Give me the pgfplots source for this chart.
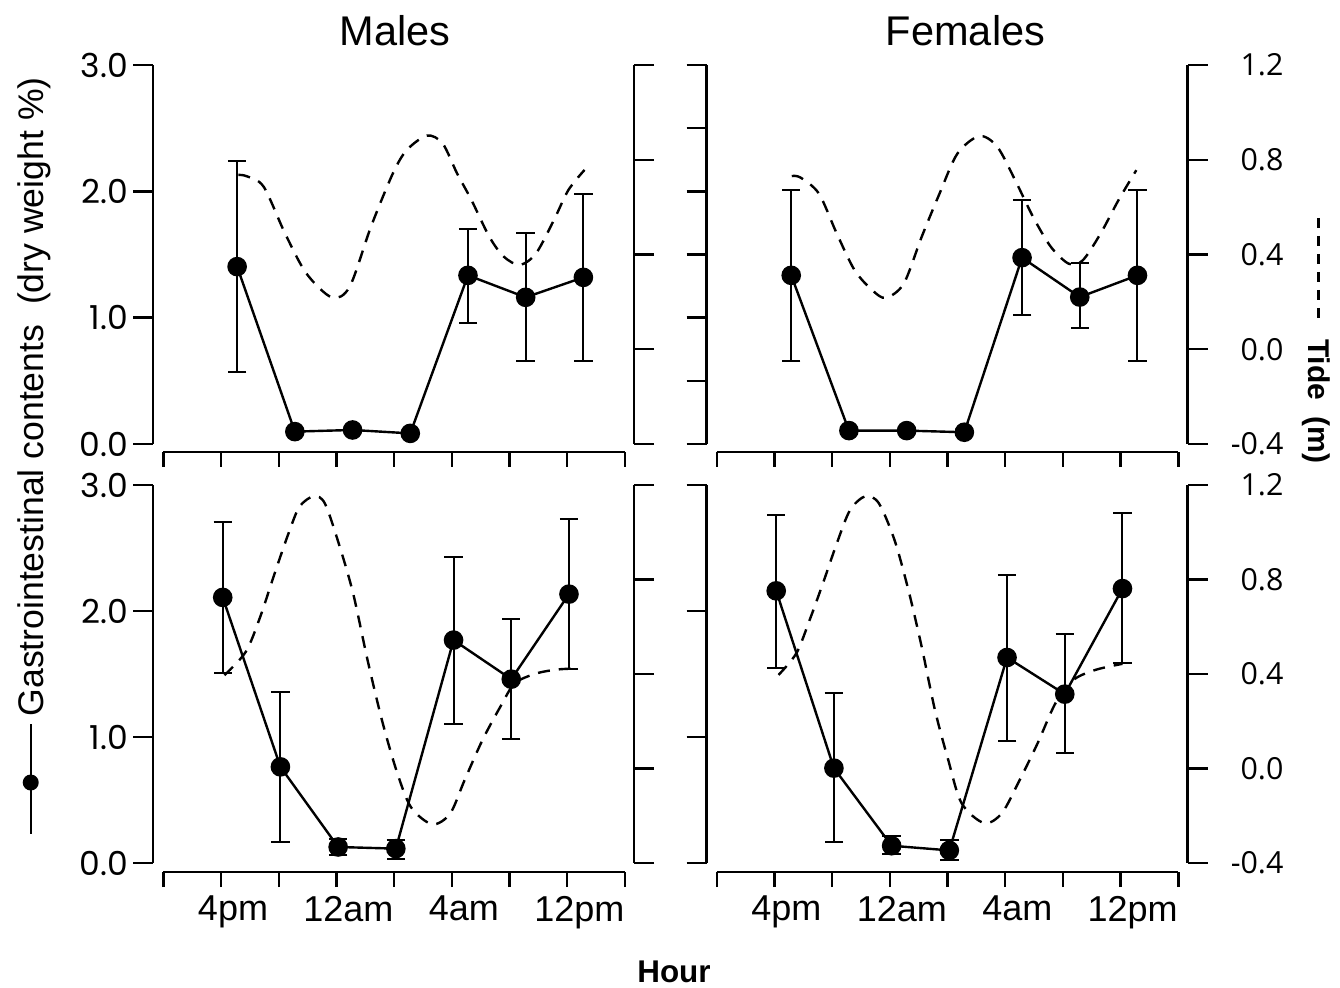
\documentclass[border=0pt]{standalone}
\usepackage{fontspec}
\setmainfont{Liberation Sans}
\newfontfamily\lfont{Poppins}
\newfontfamily\rfont{Open Sans}
\usepackage{pgfplots}
\pgfplotsset{compat=1.18}

% 1 px of the reference = 0.5pt
\pgfplotsset{
  base/.style={scale only axis, clip=false, width=240.5pt,
    xmin=-0.178, xmax=8.157, tick align=outside, major tick length=10pt,
    axis line style={line width=1.2pt}, every tick/.style={black, line width=1.2pt}},
  gi/.style={base, axis y line*=left, axis x line=none, ymin=0, ymax=3,
    yticklabel style={font=\lfont\fontsize{16.5}{18}\selectfont, xshift=1pt}},
  tide/.style={base, axis y line*=right, axis x line=none, ymin=-0.4, ymax=1.2,
    ytick={-0.4,0,0.4,0.8,1.2},
    yticklabel style={font=\rfont\fontsize{15.2}{17}\selectfont, anchor=east, xshift=41.5pt}},
  hour/.style={scale only axis, width=230.85pt, height=5pt, xmin=0, xmax=8, ymin=0, ymax=1,
    axis x line*=bottom, axis y line=none, xtick={0,...,8}, tick align=outside,
    major tick length=7.5pt, axis line style={line width=1.2pt},
    every tick/.style={black, line width=1.2pt}, xticklabels={},
    xticklabel style={font=\fontsize{18}{21}\selectfont, xshift=6pt, yshift=-1pt}},
  gidata/.style={black, line width=1.2pt, mark=*, mark size=4.3pt,
    error bars/.cd, y dir=both, y explicit,
    error bar style={line width=1pt, black},
    error mark options={rotate=90, mark size=4.6pt, line width=1pt, black}},
  tidedata/.style={black, line width=1.2pt, dash pattern=on 6pt off 4.5pt, smooth, no markers},
}

\begin{document}
\begin{tikzpicture}
\useasboundingbox (0,0) rectangle (670pt,-494pt);

% ---------- Males, top ----------
\begin{axis}[gi, at={(76.5pt,-222pt)}, anchor=south west, height=189.5pt,
  ytick={0,1,2,3}, yticklabels={0.0,1.0,2.0,3.0}]
\addplot[gidata] coordinates {
  (1.28,1.404) += (0,0.839) -= (0,0.834)
  (2.28,0.098) += (0,0) -= (0,0)
  (3.28,0.111) += (0,0) -= (0,0)
  (4.28,0.084) += (0,0) -= (0,0)
  (5.28,1.335) += (0,0.370) -= (0,0.375)
  (6.28,1.161) += (0,0.507) -= (0,0.501)
  (7.28,1.319) += (0,0.660) -= (0,0.659)
};
\end{axis}
\begin{axis}[tide, at={(76.5pt,-222pt)}, anchor=south west, height=189.5pt, yticklabels={}]
\addplot[tidedata] coordinates {
  (1.30,0.736) (1.45,0.730) (1.74,0.686) (2.11,0.489) (2.48,0.320) (2.92,0.219)
  (3.23,0.264) (3.60,0.518) (3.98,0.743) (4.22,0.841) (4.57,0.902) (4.84,0.869)
  (5.09,0.743) (5.34,0.630) (5.65,0.475) (5.90,0.391) (6.18,0.356) (6.46,0.405)
  (6.77,0.546) (7.02,0.672) (7.30,0.757)
};
\end{axis}
\begin{axis}[hour, at={(81.65pt,-226pt)}, anchor=south west]
\end{axis}

% ---------- Females, top ----------
\begin{axis}[gi, at={(353.25pt,-222pt)}, anchor=south west, height=189.5pt,
  ytick={0,0.5,...,3}, yticklabels={}]
\addplot[gidata] coordinates {
  (1.29,1.335) += (0,0.674) -= (0,0.679)
  (2.29,0.106) += (0,0) -= (0,0)
  (3.29,0.106) += (0,0) -= (0,0)
  (4.29,0.093) += (0,0) -= (0,0)
  (5.29,1.475) += (0,0.460) -= (0,0.457)
  (6.29,1.163) += (0,0.270) -= (0,0.243)
  (7.29,1.335) += (0,0.679) -= (0,0.679)
};
\end{axis}
\begin{axis}[tide, at={(353.25pt,-222pt)}, anchor=south west, height=189.5pt,
  yticklabels={-0.4,0.0,0.4,0.8,1.2}]
\addplot[tidedata] coordinates {
  (1.30,0.731) (1.45,0.725) (1.77,0.657) (2.08,0.488) (2.39,0.333) (2.70,0.248)
  (2.93,0.217) (3.24,0.277) (3.55,0.474) (3.86,0.657) (4.17,0.826) (4.55,0.900)
  (4.86,0.855) (5.17,0.714) (5.48,0.559) (5.79,0.432) (6.10,0.361) (6.34,0.375)
  (6.65,0.488) (6.96,0.629) (7.27,0.756)
};
\end{axis}
\begin{axis}[hour, at={(358.35pt,-226pt)}, anchor=south west]
\end{axis}

% ---------- Males, bottom ----------
\begin{axis}[gi, at={(76.5pt,-431.5pt)}, anchor=south west, height=189pt,
  ytick={0,1,2,3}, yticklabels={0.0,1.0,2.0,3.0}]
\addplot[gidata] coordinates {
  (1.03,2.108) += (0,0.601) -= (0,0.604)
  (2.03,0.763) += (0,0.595) -= (0,0.596)
  (3.03,0.127) += (0,0.066) -= (0,0.066)
  (4.03,0.114) += (0,0.071) -= (0,0.085)
  (5.03,1.769) += (0,0.656) -= (0,0.662)
  (6.03,1.459) += (0,0.474) -= (0,0.471)
  (7.03,2.134) += (0,0.593) -= (0,0.593)
};
\end{axis}
\begin{axis}[tide, at={(76.5pt,-431.5pt)}, anchor=south west, height=189pt, yticklabels={}]
\addplot[tidedata] coordinates {
  (1.06,0.395) (1.43,0.494) (1.68,0.642) (1.93,0.826) (2.17,0.995) (2.36,1.108)
  (2.61,1.153) (2.80,1.122) (3.04,0.953) (3.29,0.741) (3.54,0.459) (3.79,0.204)
  (4.04,-0.008) (4.29,-0.163) (4.66,-0.236) (4.97,-0.191) (5.22,-0.050) (5.53,0.120)
  (5.84,0.261) (6.09,0.360) (6.46,0.402) (6.83,0.419) (7.14,0.423)
};
\end{axis}
\begin{axis}[hour, at={(81.65pt,-436pt)}, anchor=south west,
  xticklabels={,4pm,,12am,,4am,,12pm,}]
\end{axis}

% ---------- Females, bottom ----------
\begin{axis}[gi, at={(353.25pt,-431.5pt)}, anchor=south west, height=189pt,
  ytick={0,1,2,3}, yticklabels={}]
\addplot[gidata] coordinates {
  (1.03,2.160) += (0,0.602) -= (0,0.614)
  (2.03,0.753) += (0,0.595) -= (0,0.589)
  (3.03,0.137) += (0,0.074) -= (0,0.066)
  (4.03,0.100) += (0,0.085) -= (0,0.074)
  (5.03,1.631) += (0,0.656) -= (0,0.661)
  (6.03,1.340) += (0,0.479) -= (0,0.468)
  (7.03,2.178) += (0,0.598) -= (0,0.592)
};
\end{axis}
\begin{axis}[tide, at={(353.25pt,-431.5pt)}, anchor=south west, height=189pt,
  yticklabels={-0.4,0.0,0.4,0.8,1.2}]
\addplot[tidedata] coordinates {
  (1.07,0.396) (1.38,0.488) (1.61,0.629) (1.84,0.784) (2.08,0.953) (2.31,1.094)
  (2.58,1.153) (2.81,1.122) (3.08,0.967) (3.32,0.756) (3.55,0.516) (3.78,0.248)
  (4.01,0.037) (4.24,-0.146) (4.63,-0.231) (4.94,-0.189) (5.25,-0.048) (5.56,0.107)
  (5.87,0.277) (6.18,0.375) (6.57,0.418) (7.03,0.443)
};
\end{axis}
\begin{axis}[hour, at={(358.35pt,-436pt)}, anchor=south west,
  xticklabels={,4pm,,12am,,4am,,12pm,}]
\end{axis}

% titles and labels
\node[anchor=base, font=\fontsize{20.75}{24}\selectfont] at (197.5pt,-23pt) {Males};
\node[anchor=base, font=\fontsize{20.75}{24}\selectfont] at (482.75pt,-23pt) {Females};
\node[anchor=base, font=\bfseries\fontsize{15.7}{18}\selectfont] at (337pt,-491.5pt) {Hour};
\node[rotate=90, font=\fontsize{17.8}{20}\selectfont] at (17pt,-228pt)
  {\tikz[baseline=-0.35em]{\draw[line width=1.1pt] (0,0)--(55pt,0); \fill (25.5pt,0) circle (4pt);}\,Gastrointestinal contents\ \ (dry weight \%)};
\node[rotate=-90, font=\bfseries\fontsize{15}{18}\selectfont] at (658pt,-170pt)
  {\tikz[baseline=-0.35em]\draw[line width=1.3pt, dash pattern=on 5pt off 4pt] (0,0)--(50pt,0);\hspace{10pt}Tide\ \ (m)};
\end{tikzpicture}
\end{document}
